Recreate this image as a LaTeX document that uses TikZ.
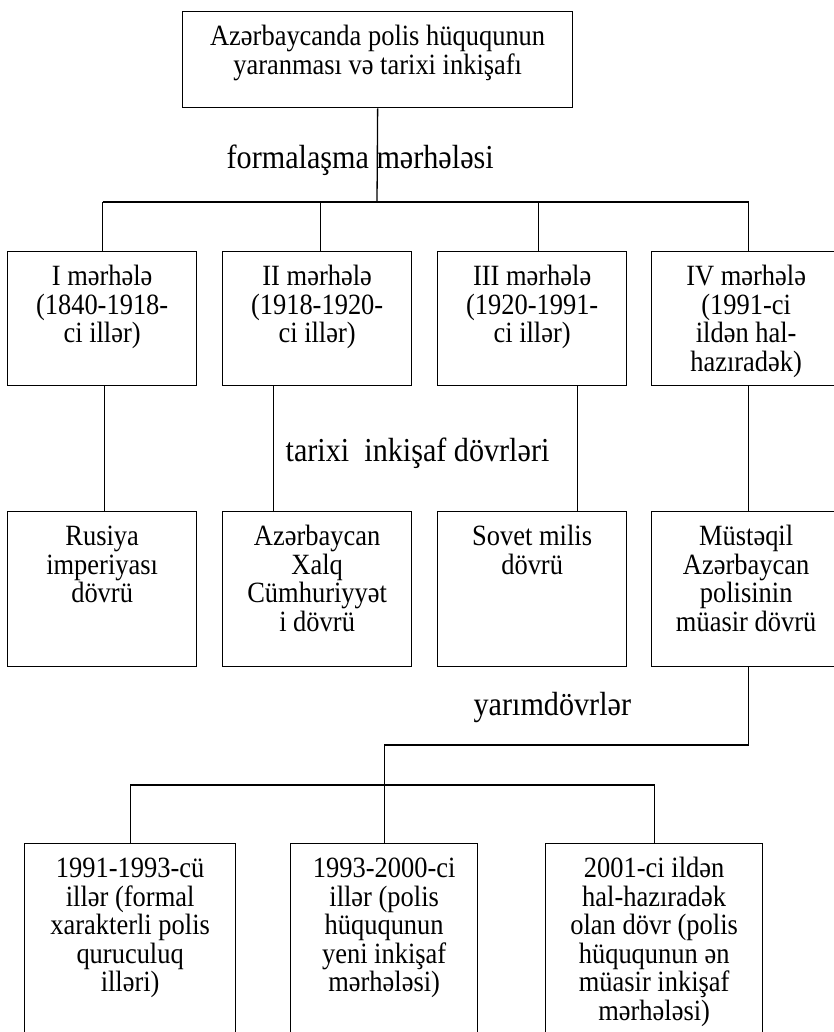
\documentclass[tikz,border=0pt]{standalone}
\usepackage{fontspec}
\setmainfont{Liberation Serif}
\newfontfamily\tallfam{Liberation Serif}[FakeStretch=0.9]
\usetikzlibrary{calc}
\newcommand*{\cw}{189pt}
\newcommand*{\boxfont}{\tallfam\fontsize{29.4}{28.5}\selectfont}
\newcommand*{\lblfont}{\tallfam\fontsize{33.5}{33}\selectfont}
\newcommand*{\cell}[3]{\parbox[c][#2][t]{#1}{\centering\rule{0pt}{34pt}#3}}

\begin{document}
\begin{tikzpicture}[x=1pt, y=-1pt, line width=1.3pt,
    box/.style={draw, inner sep=0pt, anchor=north west, font=\boxfont},
    lbl/.style={inner sep=0pt, anchor=base west, font=\lblfont}]
    \useasboundingbox (0,0) rectangle (833,1032);
    \node [box] (root) at (182,11) {\cell{390pt}{96pt}{Azərbaycanda polis hüququnun\\yaranması və tarixi inkişafı}};
    \node [box] (s1) at (7,251)   {\cell{\cw}{134pt}{I mərhələ\\(1840-1918-\\ci illər)}};
    \node [box] (s2) at (222,251) {\cell{\cw}{134pt}{II mərhələ\\(1918-1920-\\ci illər)}};
    \node [box] (s3) at (437,251) {\cell{\cw}{134pt}{III mərhələ\\(1920-1991-\\ci illər)}};
    \node [box] (s4) at (651,251) {\cell{\cw}{134pt}{IV mərhələ\\(1991-ci\\ildən hal-\\hazıradək)}};
    \node [box] (p1) at (7,511)   {\cell{\cw}{155pt}{Rusiya\\imperiyası\\dövrü}};
    \node [box] (p2) at (222,511) {\cell{\cw}{155pt}{Azərbaycan\\Xalq\\Cümhuriyyət\\i dövrü}};
    \node [box] (p3) at (437,511) {\cell{\cw}{155pt}{Sovet milis\\dövrü}};
    \node [box] (p4) at (651,511) {\cell{\cw}{155pt}{Müstəqil\\Azərbaycan\\polisinin\\müasir dövrü}};
    \node [box] (q1) at (24,843)  {\cell{211pt}{200pt}{1991-1993-cü\\illər (formal\\xarakterli polis\\quruculuq\\illəri)}};
    \node [box] (q2) at (290,843) {\cell{187pt}{200pt}{1993-2000-ci\\illər (polis\\hüququnun\\yeni inkişaf\\mərhələsi)}};
    \node [box] (q3) at (545,843) {\cell{217pt}{200pt}{2001-ci ildən\\hal-hazıradək\\olan dövr (polis\\hüququnun ən\\müasir inkişaf\\mərhələsi)}};
    \node [lbl] (formal) at (226,169) {formalaşma mərhələsi};
    \node [lbl] (tarix)  at (285,461) {tarixi\ \ inkişaf dövrləri};
    \node [lbl] (yarim)  at (473,715) {yarımdövrlər};
    \coordinate (bus) at (377,202);
    \draw (root.south) -- (bus);
    \foreach \n/\dx in {1/0.5,2/3.5,3/6,4/2.5} {
        \coordinate (d\n) at ($(s\n.north)+(\dx,0)$);
        \draw (d\n |- bus) -- (d\n);
    }
    \draw (d1 |- bus) -- (d4 |- bus);
    \foreach \n/\dx in {1/2.5,2/-43.5,3/45,4/2.5}
        \draw ($(s\n.south)+(\dx,0)$) -- ($(p\n.north)+(\dx,0)$);
    \coordinate (join) at (0,745);
    \coordinate (bus2) at (0,785);
    \draw ($(p4.south)+(2.5,0)$) |- (q2.north |- join) -- (q2.north);
    \draw (q1.north) |- (bus2 -| q3.north) -- (q3.north);
    %\draw (q2.north |- bus2) -- (q2.north);
\end{tikzpicture}
\end{document}
